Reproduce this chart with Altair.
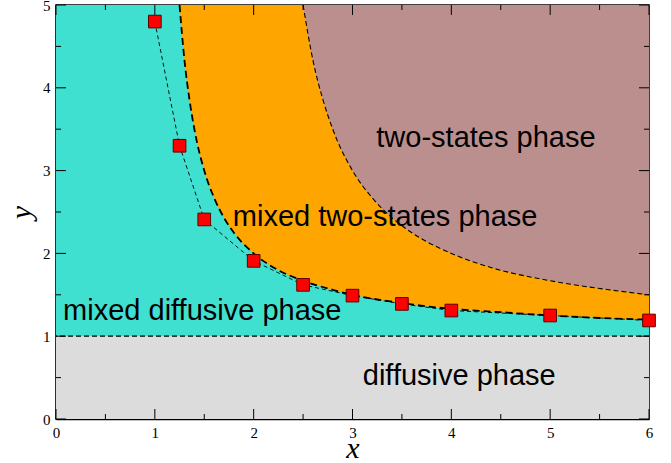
import altair as alt
import pandas as pd

W, H = 593, 414

# phase-boundary curves
curve1_x = [1.25, 1.3, 1.35, 1.4, 1.5, 1.6, 1.7, 1.8, 2.0, 2.2, 2.5, 2.8, 3.0, 3.5, 4.0, 4.5, 5.0, 5.5, 6.0]
curve1_y = [5.0, 4.33, 3.86, 3.5, 3.0, 2.67, 2.43, 2.25, 2.0, 1.83, 1.67, 1.56, 1.5, 1.4, 1.33, 1.29, 1.25, 1.22, 1.2]
curve2_x = [2.5, 2.6, 2.7, 2.8, 3.0, 3.2, 3.4, 3.6, 4.0, 4.4, 5.0, 5.6, 6.0]
curve2_y = [5.0, 4.33, 3.86, 3.5, 3.0, 2.67, 2.43, 2.25, 2.0, 1.83, 1.67, 1.56, 1.5]

# simulation points
pts_x = [1, 1.25, 1.5, 2, 2.5, 3, 3.5, 4, 5, 6]
pts_y = [4.8, 3.3, 2.41, 1.91, 1.62, 1.49, 1.39, 1.31, 1.25, 1.19]

# regions
reg_x0 = [0, 0]
reg_x1 = [6, 6]
reg_y0 = [0, 1]
reg_y1 = [1, 5]
reg_color = ["#DCDCDC", "#40E0D0"]

# labels
lab_text = ["two-states phase", "mixed two-states phase", "mixed diffusive phase", "diffusive phase"]
lab_x = [4.35, 3.33, 1.48, 4.08]
lab_y = [3.28, 2.33, 1.19, 0.41]

x_major = [0, 1, 2, 3, 4, 5, 6]
x_minor = [0.5, 1.5, 2.5, 3.5, 4.5, 5.5]
y_major = [0, 1, 2, 3, 4, 5]
y_minor = [0.5, 1.5, 2.5, 3.5, 4.5]
y_top = 5

xs = alt.Scale(domain=[0, 6], nice=False, zero=False)
ys = alt.Scale(domain=[0, 5], nice=False, zero=False)
AX = alt.Axis(values=x_major, format="d", title="x", tickSize=0, labelPadding=6,
              titlePadding=-7, labelFlush=False)
AY = alt.Axis(values=y_major, format="d", title="y", tickSize=0, labelPadding=6, titleAngle=-90,
              titlePadding=6, labelFlush=False)


def X(f):
    return alt.X(f, scale=xs, axis=AX)


def Y(f):
    return alt.Y(f, scale=ys, axis=AY)


reg_df = pd.DataFrame({"x0": reg_x0, "x1": reg_x1, "y0": reg_y0, "y1": reg_y1, "color": reg_color})
c1 = pd.DataFrame({"x": curve1_x, "y": curve1_y, "top": [y_top] * len(curve1_x)})
c2 = pd.DataFrame({"x": curve2_x, "y": curve2_y, "top": [y_top] * len(curve2_x)})
pts = pd.DataFrame({"x": pts_x, "y": pts_y})
labs = pd.DataFrame({"t": lab_text, "x": lab_x, "y": lab_y})

regions = alt.Chart(reg_df).mark_rect().encode(
    x=X("x0:Q"), x2="x1:Q", y=Y("y0:Q"), y2="y1:Q",
    color=alt.Color("color:N", scale=None),
)

orange = alt.Chart(c1).mark_area(color="#FFA500", interpolate="monotone", clip=True).encode(
    x=X("x:Q"), y=Y("y:Q"), y2="top:Q")
brown = alt.Chart(c2).mark_area(color="#BC8F8F", interpolate="monotone", clip=True).encode(
    x=X("x:Q"), y=Y("y:Q"), y2="top:Q")

line1 = alt.Chart(c1).mark_line(color="black", strokeWidth=1.8, strokeDash=[7, 4],
                                interpolate="monotone", clip=True).encode(x=X("x:Q"), y=Y("y:Q"))
line2 = alt.Chart(c2).mark_line(color="black", strokeWidth=1.1, strokeDash=[5, 3],
                                interpolate="monotone", clip=True).encode(x=X("x:Q"), y=Y("y:Q"))

hline = alt.Chart(pd.DataFrame({"y": [1]})).mark_rule(color="black", strokeWidth=1.3,
                                                       strokeDash=[5, 3]).encode(y=Y("y:Q"))

ptline = alt.Chart(pts).mark_line(color="black", strokeWidth=0.9, strokeDash=[4, 3]).encode(
    x=X("x:Q"), y=Y("y:Q"))
ptmark = alt.Chart(pts).mark_point(shape="square", filled=True, size=160, color="#FF0000",
                                   stroke="#5a0000", strokeWidth=1, opacity=1).encode(
    x=X("x:Q"), y=Y("y:Q"))

texts = alt.Chart(labs).mark_text(font="Liberation Sans", fontSize=29, color="black",
                                  align="center", baseline="alphabetic").encode(
    x=X("x:Q"), y=Y("y:Q"), text="t:N")


def xticks(vals, length):
    df = pd.DataFrame({"v": vals})
    bot = alt.Chart(df).mark_rule(color="black", strokeWidth=1).encode(
        x=X("v:Q"), y=alt.value(H), y2=alt.value(H - length))
    top = alt.Chart(df).mark_rule(color="black", strokeWidth=1).encode(
        x=X("v:Q"), y=alt.value(0), y2=alt.value(length))
    return [bot, top]


def yticks(vals, length):
    df = pd.DataFrame({"v": vals})
    left = alt.Chart(df).mark_rule(color="black", strokeWidth=1).encode(
        y=Y("v:Q"), x=alt.value(0), x2=alt.value(length))
    right = alt.Chart(df).mark_rule(color="black", strokeWidth=1).encode(
        y=Y("v:Q"), x=alt.value(W), x2=alt.value(W - length))
    return [left, right]


ticks = xticks(x_major, 10) + xticks(x_minor, 5) + yticks(y_major, 10) + yticks(y_minor, 5)

chart = alt.layer(regions, orange, brown, hline, line1, line2, ptline, ptmark, texts, *ticks).properties(
    width=W, height=H,
    autosize=alt.AutoSizeParams(type="none"),
    padding={"left": 56, "top": 5, "right": 22, "bottom": 44},
).configure_view(
    stroke="black", strokeWidth=1.5
).configure_axis(
    domainColor="black", domainWidth=1.5, grid=False,
    labelFont="Liberation Serif", labelFontSize=15, labelColor="black",
    titleFont="Liberation Serif", titleFontStyle="italic", titleFontWeight="normal",
    titleFontSize=30, titleColor="black",
)

chart.save("out.html", embed_options={"renderer": "svg", "actions": False})
